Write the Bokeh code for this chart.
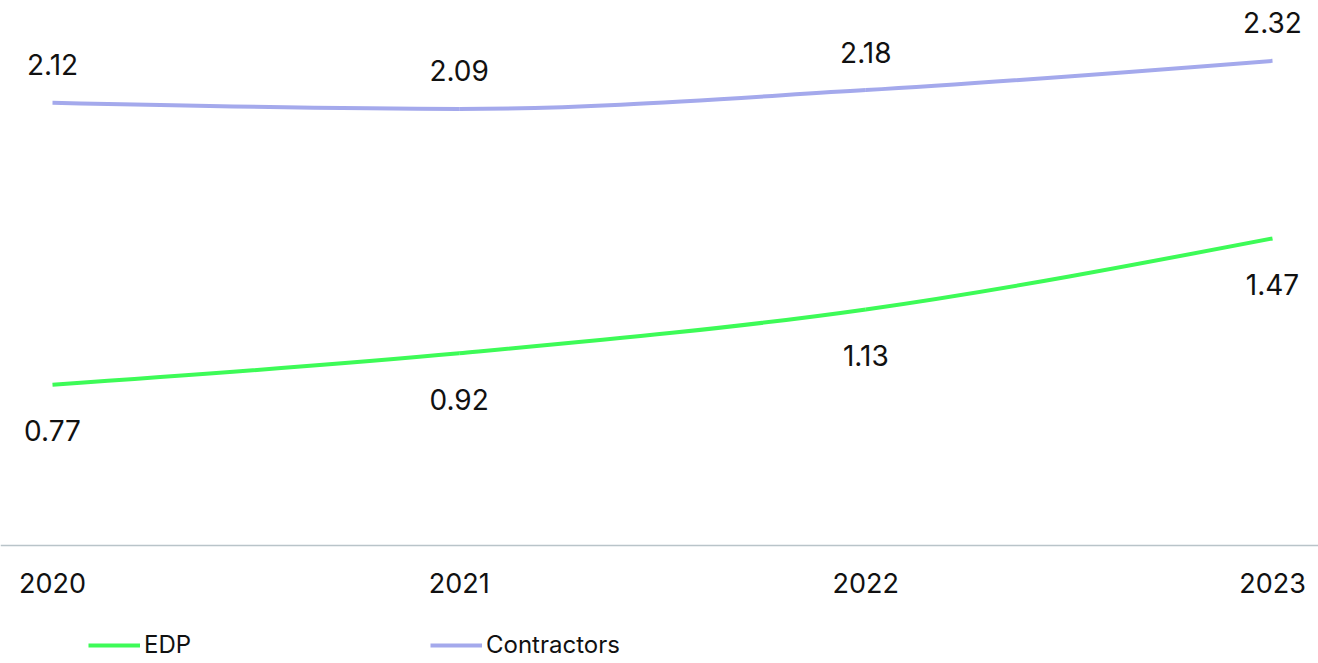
import numpy as np
from bokeh.plotting import figure
from bokeh.models import ColumnDataSource, Legend, LegendItem, FixedTicker
from bokeh.core.properties import value
from bokeh.embed import file_html
from bokeh.resources import INLINE

years = [2020, 2021, 2022, 2023]
edp = [0.77, 0.92, 1.13, 1.47]
contractors = [2.12, 2.09, 2.18, 2.32]
series_names = ["EDP", "Contractors"]
colors = ["#3DFB57", "#A4A9EC"]
FONT = "Inter"


def monotone_bezier(xs, ys):
    """Bezier segments of a monotone cubic curve through the given points."""
    xs = np.asarray(xs, float); ys = np.asarray(ys, float)
    n = len(xs)
    t = np.zeros(n)
    for i in range(1, n - 1):
        h0 = xs[i] - xs[i - 1]; h1 = xs[i + 1] - xs[i]
        s0 = (ys[i] - ys[i - 1]) / h0; s1 = (ys[i + 1] - ys[i]) / h1
        p = (s0 * h1 + s1 * h0) / (h0 + h1)
        t[i] = (np.sign(s0) + np.sign(s1)) * min(abs(s0), abs(s1), 0.5 * abs(p))
    h = xs[1] - xs[0]
    t[0] = (3 * (ys[1] - ys[0]) / h - t[1]) / 2
    h = xs[-1] - xs[-2]
    t[-1] = (3 * (ys[-1] - ys[-2]) / h - t[-2]) / 2
    d = dict(x0=[], y0=[], x1=[], y1=[], cx0=[], cy0=[], cx1=[], cy1=[])
    for i in range(n - 1):
        dx = (xs[i + 1] - xs[i]) / 3
        d["x0"].append(xs[i]); d["y0"].append(ys[i])
        d["x1"].append(xs[i + 1]); d["y1"].append(ys[i + 1])
        d["cx0"].append(xs[i] + dx); d["cy0"].append(ys[i] + dx * t[i])
        d["cx1"].append(xs[i + 1] - dx); d["cy1"].append(ys[i + 1] - dx * t[i + 1])
    return ColumnDataSource(d)


W, H = 1318, 663
PPU = 208.9            # pixels per y unit
ZERO_PX = 545          # pixel row of y = 0
ppy = (1272 - 52) / 3.0
p = figure(width=W, height=H, output_backend="svg", toolbar_location=None,
           x_range=(2020 - 52 / ppy, 2023 + 46 / ppy),
           y_range=(-(H - ZERO_PX) / PPU, ZERO_PX / PPU),
           min_border_left=0, min_border_right=0, min_border_top=0, min_border_bottom=0)
p.outline_line_color = None
p.grid.visible = False
p.yaxis.visible = False
p.background_fill_color = "white"
p.border_fill_color = "white"

xa = p.xaxis[0]
xa.fixed_location = 0
xa.ticker = FixedTicker(ticks=years)
xa.major_label_overrides = {y: str(y) for y in years}
xa.axis_line_color = "#B9C4C9"
xa.axis_line_width = 1.5
xa.major_tick_line_color = None
xa.minor_tick_line_color = None
xa.major_tick_out = 0
xa.major_tick_in = 0
xa.major_label_standoff = 27
xa.major_label_text_font = FONT
xa.major_label_text_font_size = "27px"
xa.major_label_text_color = "#111111"

renderers = []
for name, vals, col, off in [("EDP", edp, colors[0], 46), ("Contractors", contractors, colors[1], -38)]:
    r = p.bezier(x0="x0", y0="y0", x1="x1", y1="y1", cx0="cx0", cy0="cy0", cx1="cx1", cy1="cy1",
                 source=monotone_bezier(years, vals), line_color=col, line_width=4)
    renderers.append((name, r))
    lab = ColumnDataSource(dict(x=years, y=vals, t=[f"{v:.2f}" for v in vals]))
    p.text(x="x", y="y", text="t", source=lab, y_offset=off, text_align="center",
           text_baseline="middle", text_font=value(FONT), text_font_size="28px", text_color="#111111")

legend = Legend(items=[LegendItem(label=n, renderers=[r]) for n, r in renderers],
                orientation="horizontal", location=(88, 4),
                glyph_width=52, glyph_height=20, label_standoff=4, label_width=276, spacing=10,
                padding=0, margin=0, border_line_color=None, background_fill_alpha=0,
                label_text_font=FONT, label_text_font_size="24px", label_text_color="#111111")
p.add_layout(legend, "center")

open("out.html", "w").write(file_html(p, INLINE))
